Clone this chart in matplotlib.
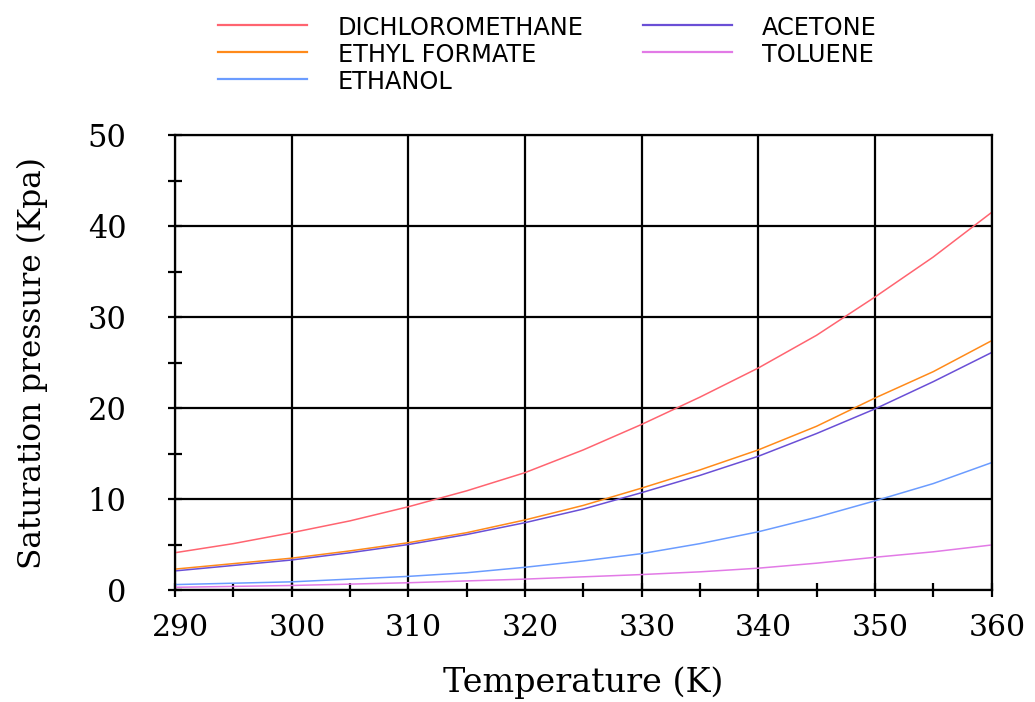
import matplotlib.pyplot as plt
from matplotlib.lines import Line2D
from matplotlib.ticker import MultipleLocator
from matplotlib.transforms import ScaledTranslation

# temperatura (K) y presion de saturacion (kPa)
temperatura = [290, 295, 300, 305, 310, 315, 320, 325, 330, 335, 340, 345, 350, 355, 360]
diclorometano = [4.1, 5.1, 6.3, 7.6, 9.15, 10.9, 12.9, 15.4, 18.2, 21.2, 24.4, 28.0, 32.2, 36.6, 41.5]
formiato_etilo = [2.3, 2.9, 3.5, 4.3, 5.2, 6.3, 7.7, 9.3, 11.2, 13.2, 15.4, 18.0, 21.1, 24.0, 27.4]
etanol = [0.6, 0.75, 0.9, 1.2, 1.5, 1.9, 2.5, 3.2, 4.0, 5.1, 6.4, 8.0, 9.8, 11.7, 14.0]
acetona = [2.1, 2.7, 3.3, 4.1, 5.0, 6.1, 7.4, 8.9, 10.7, 12.6, 14.7, 17.2, 19.9, 22.9, 26.1]
tolueno = [0.3, 0.4, 0.5, 0.65, 0.8, 1.0, 1.2, 1.45, 1.7, 2.0, 2.4, 2.95, 3.6, 4.2, 4.95]

series = [
    ("DICHLOROMETHANE", diclorometano, "#ff6470"),
    ("ETHYL FORMATE", formiato_etilo, "#ff8a1a"),
    ("ETHANOL", etanol, "#6b9cff"),
    ("ACETONE", acetona, "#6a4fd6"),
    ("TOLUENE", tolueno, "#e27ae6"),
]

fig = plt.figure(figsize=(10.35, 7.02), dpi=100)
ax = fig.add_axes([0.169, 0.1595, 0.789, 0.648])

for nombre, valores, color in series:
    ax.plot(temperatura, valores, color=color, lw=1.1, label=nombre)

ax.set_xlim(290, 360)
ax.set_ylim(0, 50)
ax.xaxis.set_major_locator(MultipleLocator(10))
ax.xaxis.set_minor_locator(MultipleLocator(5))
ax.yaxis.set_major_locator(MultipleLocator(10))
ax.yaxis.set_minor_locator(MultipleLocator(5))
ax.grid(which="major", color="black", lw=1.6)
ax.set_axisbelow(True)
for s in ax.spines.values():
    s.set_linewidth(1.6)
ax.tick_params(which="both", direction="inout", width=1.6, colors="black", length=10)
ax.tick_params(axis="y", which="major", labelsize=22, pad=30)
ax.tick_params(axis="x", which="major", labelsize=21.5, pad=12)
desplazamiento = ScaledTranslation(4 / 72, 0, fig.dpi_scale_trans)
for lab in ax.get_xticklabels():
    lab.set_family("DejaVu Serif")
    lab.set_transform(lab.get_transform() + desplazamiento)
for lab in ax.get_yticklabels():
    lab.set_family("DejaVu Serif")

ax.set_xlabel("Temperature (K)", family="DejaVu Serif", fontsize=24, labelpad=18)
ax.set_ylabel("Saturation pressure (Kpa)", family="DejaVu Serif", fontsize=22.5)
ax.yaxis.set_label_coords(-0.155, 0.5)

# leyenda a mano: dos columnas arriba
pos_leyenda = [
    (0.2106, 0.2966, 0.3266, 35),
    (0.2106, 0.2966, 0.3266, 62),
    (0.2106, 0.2966, 0.3266, 89),
    (0.6213, 0.7072, 0.7362, 35),
    (0.6213, 0.7072, 0.7362, 62),
]
for (nombre, _, color), (x0, x1, xt, base) in zip(series, pos_leyenda):
    yb = 1 - base / 702
    yl = 1 - (base - 10) / 702
    fig.add_artist(Line2D([x0, x1], [yl, yl], color=color, lw=1.6, transform=fig.transFigure))
    fig.text(xt, yb, nombre, family="DejaVu Sans", fontsize=17.3, va="baseline", ha="left")

fig.savefig("out.png", dpi=100)
